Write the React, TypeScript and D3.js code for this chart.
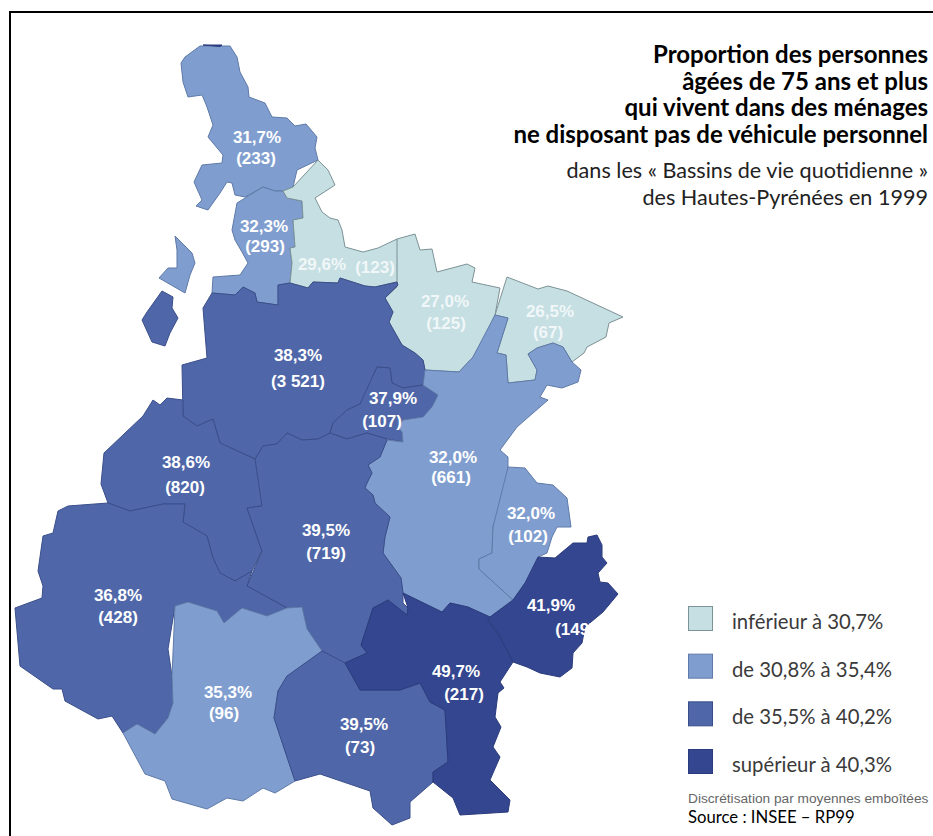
// Proportion des 75 ans et plus sans vehicule, par bassin de vie (Hautes-Pyrenees, 1999)
import React from 'react';
import * as d3 from 'd3';

const svgWidth = 933;
const svgHeight = 836;

// values, one entry per bassin
const shares = [31.7, 32.3, 29.6, 27.0, 26.5, 38.3, 37.9, 38.6, 32.0, 32.0, 39.5, 36.8, 35.3, 39.5, 49.7, 41.9];
const counts = [233, 293, 123, 125, 67, 3521, 107, 820, 661, 102, 719, 428, 96, 73, 217, 149];

const classBreaks = [30.75, 35.45, 40.25];
const classColors = ['#c5dfe3', '#7f9ecf', '#4f67a9', '#33468f'];
const classStrokes = ['#7d9296', '#5f7aa8', '#3a4e8a', '#2b3b7c'];
const legendLabels = ['inférieur à 30,7%', 'de 30,8% à 35,4%', 'de 35,5% à 40,2%', 'supérieur à 40,3%'];

const titleLines = [
  'Proportion des personnes',
  'âgées de 75 ans et plus',
  'qui vivent dans des ménages',
  'ne disposant pas de véhicule personnel',
];
const subtitleLines = ['dans les « Bassins de vie quotidienne »', 'des Hautes-Pyrénées en 1999'];

const outlines: number[][][][] = [
  [[[200,46],[230,46],[237,57],[240,72],[248,87],[249,97],[265,103],[272,117],[287,118],[295,126],[306,124],[317,137],[315,148],[318,160],[297,170],[293,187],[283,191],[275,191],[263,187],[245,197],[235,195],[232,183],[227,182],[220,193],[208,210],[196,206],[202,200],[194,182],[202,165],[222,163],[223,155],[208,137],[213,125],[207,107],[205,102],[202,95],[188,97],[183,82],[181,63],[185,57],[198,55]]],
  [[[263,187],[275,191],[283,191],[287,198],[302,201],[303,218],[293,220],[295,247],[290,248],[292,263],[290,283],[278,285],[278,305],[257,302],[255,293],[243,287],[235,295],[212,293],[213,277],[240,275],[248,263],[242,252],[235,240],[232,230],[237,203],[245,197]],
   [[175,236],[192,253],[195,263],[190,275],[185,293],[159,278],[168,268],[177,268],[177,250],[169,240]]],
  [[[318,160],[328,170],[335,185],[315,198],[322,212],[330,218],[338,220],[342,230],[345,247],[363,252],[378,248],[397,239],[402,267],[397,282],[375,287],[365,286],[340,278],[338,283],[313,282],[308,288],[290,283],[292,263],[290,248],[295,247],[293,220],[303,218],[302,201],[287,198],[283,191],[293,187],[297,170]]],
  [[[397,239],[415,234],[420,250],[432,249],[437,272],[467,264],[475,268],[472,282],[500,288],[495,315],[487,333],[473,357],[459,372],[425,370],[423,360],[415,353],[402,345],[389,322],[393,312],[385,298],[397,287],[402,267]]],
  [[[507,277],[538,289],[548,286],[567,291],[623,317],[609,323],[606,337],[587,347],[584,353],[572,362],[563,347],[553,343],[537,348],[528,354],[537,370],[535,380],[508,383],[506,355],[497,353],[508,318],[495,315],[500,288]]],
  [[[203,308],[212,293],[235,295],[243,287],[255,293],[257,302],[278,305],[278,285],[290,283],[308,288],[313,282],[338,283],[340,278],[365,286],[375,287],[397,282],[398,285],[385,298],[393,312],[389,322],[402,345],[415,353],[423,360],[425,370],[423,385],[403,388],[392,383],[390,368],[377,367],[375,383],[360,404],[347,410],[333,423],[330,433],[318,439],[302,440],[287,433],[277,444],[263,446],[255,459],[220,443],[213,419],[197,426],[183,416],[182,365],[207,358],[213,333]],
   [[162,291],[173,297],[172,308],[178,318],[170,333],[165,346],[152,342],[142,320],[147,312],[147,300]]],
  [[[377,367],[390,368],[392,383],[403,388],[423,385],[438,395],[432,407],[423,417],[403,420],[398,427],[402,432],[403,442],[387,439],[367,433],[347,439],[330,433],[333,423],[347,410],[360,404],[375,383]]],
  [[[143,416],[153,400],[160,405],[167,398],[183,400],[183,416],[197,426],[213,419],[220,443],[255,459],[265,483],[262,506],[247,508],[262,551],[252,571],[235,581],[220,573],[213,558],[207,536],[183,522],[185,504],[163,504],[130,511],[108,503],[101,484],[104,453],[127,439]]],
  [[[495,315],[508,318],[497,353],[506,355],[508,383],[535,380],[537,370],[528,354],[537,348],[553,343],[563,347],[572,362],[581,370],[578,382],[562,388],[547,385],[540,397],[548,400],[517,427],[500,450],[508,457],[508,467],[508,480],[493,527],[492,553],[479,559],[479,569],[513,600],[490,617],[468,607],[450,603],[442,612],[403,593],[401,578],[383,553],[385,537],[390,517],[375,503],[373,495],[365,488],[367,483],[372,473],[368,465],[380,457],[387,440],[403,442],[402,432],[398,427],[403,420],[423,417],[432,407],[438,395],[423,385],[425,370],[459,372],[473,357],[487,333]]],
  [[[508,467],[525,468],[537,483],[553,485],[567,498],[571,527],[557,527],[552,537],[547,553],[538,557],[538,573],[525,583],[513,600],[479,569],[479,559],[492,553],[493,527],[508,480]]],
  [[[255,459],[263,446],[277,444],[287,433],[302,440],[318,439],[330,433],[347,439],[367,433],[387,439],[387,440],[380,457],[368,465],[372,473],[367,483],[365,488],[373,495],[375,503],[390,517],[385,537],[383,553],[401,578],[403,593],[403,603],[408,608],[407,615],[388,600],[373,608],[361,645],[367,653],[345,663],[322,651],[307,629],[302,607],[287,608],[247,586],[262,551],[247,508],[262,506],[265,483]]],
  [[[108,503],[130,511],[163,504],[185,504],[183,522],[207,536],[213,558],[220,573],[235,581],[252,571],[247,586],[287,608],[267,616],[242,608],[224,623],[217,611],[188,602],[175,606],[168,649],[172,676],[173,703],[168,718],[155,734],[137,724],[123,733],[112,716],[98,719],[65,701],[62,689],[53,689],[20,666],[15,608],[42,598],[43,586],[38,571],[43,536],[53,533],[58,511],[68,506],[80,514]]],
  [[[175,606],[188,602],[217,611],[224,623],[242,608],[267,616],[287,608],[302,607],[307,629],[322,651],[298,673],[287,676],[278,691],[274,718],[295,781],[275,793],[263,788],[243,801],[227,798],[207,809],[172,799],[165,781],[145,774],[123,733],[137,724],[155,734],[168,718],[173,703],[172,676],[168,649]]],
  [[[322,651],[345,663],[360,690],[400,690],[420,683],[430,702],[445,710],[448,762],[433,772],[433,782],[410,802],[410,818],[392,825],[373,808],[370,791],[320,774],[295,781],[274,718],[278,691],[287,676],[298,673]]],
  [[[403,593],[442,612],[450,603],[468,607],[490,617],[488,620],[499,635],[513,662],[500,682],[504,688],[498,693],[495,717],[501,727],[493,747],[500,757],[490,780],[510,800],[508,812],[460,815],[453,798],[433,782],[433,772],[448,762],[445,710],[430,702],[420,683],[400,690],[360,690],[345,663],[367,653],[361,645],[373,608],[388,600],[407,615],[408,608],[403,603]],
   [[203,45],[222,45],[220,46.5],[205,46.5]]],
  [[[538,557],[555,558],[573,543],[587,543],[588,537],[597,535],[602,545],[602,557],[607,563],[598,573],[600,582],[608,583],[618,594],[603,612],[585,627],[582,643],[573,653],[572,668],[560,677],[540,673],[527,667],[513,662],[499,635],[488,620],[490,617],[513,600],[525,583],[538,573]]],
];

// where each pair of labels sits: [shareX, shareY, countX, countY]
const labelAnchors = [
  [257,143,256,164],[264,232,265,252],[322,270,375,273],[445,307,446,329],[550,317,548,338],
  [298,361,298,387],[393,404,382,427],[186,468,185,493],[453,463,451,483],[531,519,528,542],
  [326,536,326,559],[118,601,118,623],[228,698,224,719],[364,730,360,753],[456,677,464,700],[551,611,575,635],
];

const classOf = d3.scaleThreshold<number, number>().domain(classBreaks).range([0, 1, 2, 3]);
const pathOf = d3.geoPath(d3.geoIdentity());
const fr = d3.formatLocale({ decimal: ',', thousands: ' ', grouping: [3], currency: ['', ''] });
const shareText = (v: number) => fr.format('.1f')(v) + '%';
const countText = (v: number) => '(' + fr.format(',d')(v) + ')';

const legendY = d3.scalePoint<number>().domain([0, 1, 2, 3]).range([606, 749]);

const App = () => {
  const gill = 'Lato, sans-serif';
  const arial = '"Liberation Sans", Arial, sans-serif';
  return (
    <svg
      width={svgWidth}
      height={svgHeight}
      style={{ position: 'absolute', left: 0, top: 0, background: '#fff' }}
    >
      <path d={`M10,${svgHeight}V12H${svgWidth}`} fill="none" stroke="#000" strokeWidth={2} />

      <g className="regions" strokeLinejoin="round">
        {outlines.map((rings, i) => {
          const c = classOf(shares[i]);
          // every ring here is a separate piece of the bassin (no holes)
          const shape = { type: 'MultiPolygon', coordinates: rings.map(r => [r]) };
          return (
            <path
              key={i}
              d={pathOf(shape as any) || ''}
              fill={classColors[c]}
              stroke={classStrokes[c]}
              strokeWidth={1}
            />
          );
        })}
      </g>

      <g className="labels" fontFamily={arial} fontWeight="bold" fontSize={17} fill="#fff" textAnchor="middle">
        {shares.map((v, i) => {
          const a = labelAnchors[i];
          const c = classOf(v);
          return (
            <g key={i} fill={c === 0 ? '#f1f7f8' : '#fff'}>
              <text x={a[0]} y={a[1]}>{shareText(v)}</text>
              <text x={a[2]} y={a[3]}>{countText(counts[i])}</text>
            </g>
          );
        })}
      </g>

      <g className="title" fontFamily={gill} textAnchor="end" fill="#000">
        {titleLines.map((t, i) => (
          <text key={t} x={928} y={63 + i * 26.7} fontSize={24} fontWeight="bold">{t}</text>
        ))}
        {subtitleLines.map((t, i) => (
          <text key={t} x={928} y={178 + i * 27} fontSize={21.6} fill="#222">{t}</text>
        ))}
      </g>

      <g className="legend" fontFamily={gill}>
        {legendLabels.map((t, i) => (
          <g key={t}>
            <rect
              x={688.5}
              y={(legendY(i) as number) + 0.5}
              width={24}
              height={24}
              fill={classColors[i]}
              stroke={classStrokes[i]}
            />
            <text x={732} y={(legendY(i) as number) + 23} fontSize={20.3} fill="#3a3a3a">{t}</text>
          </g>
        ))}
        <text x={688} y={803} fontFamily={arial} fontSize={13.7} fill="#666">Discrétisation par moyennes emboîtées</text>
        <text x={688} y={823} fontSize={16.7} fill="#000">Source : INSEE – RP99</text>
      </g>
    </svg>
  );
};

export default App;
